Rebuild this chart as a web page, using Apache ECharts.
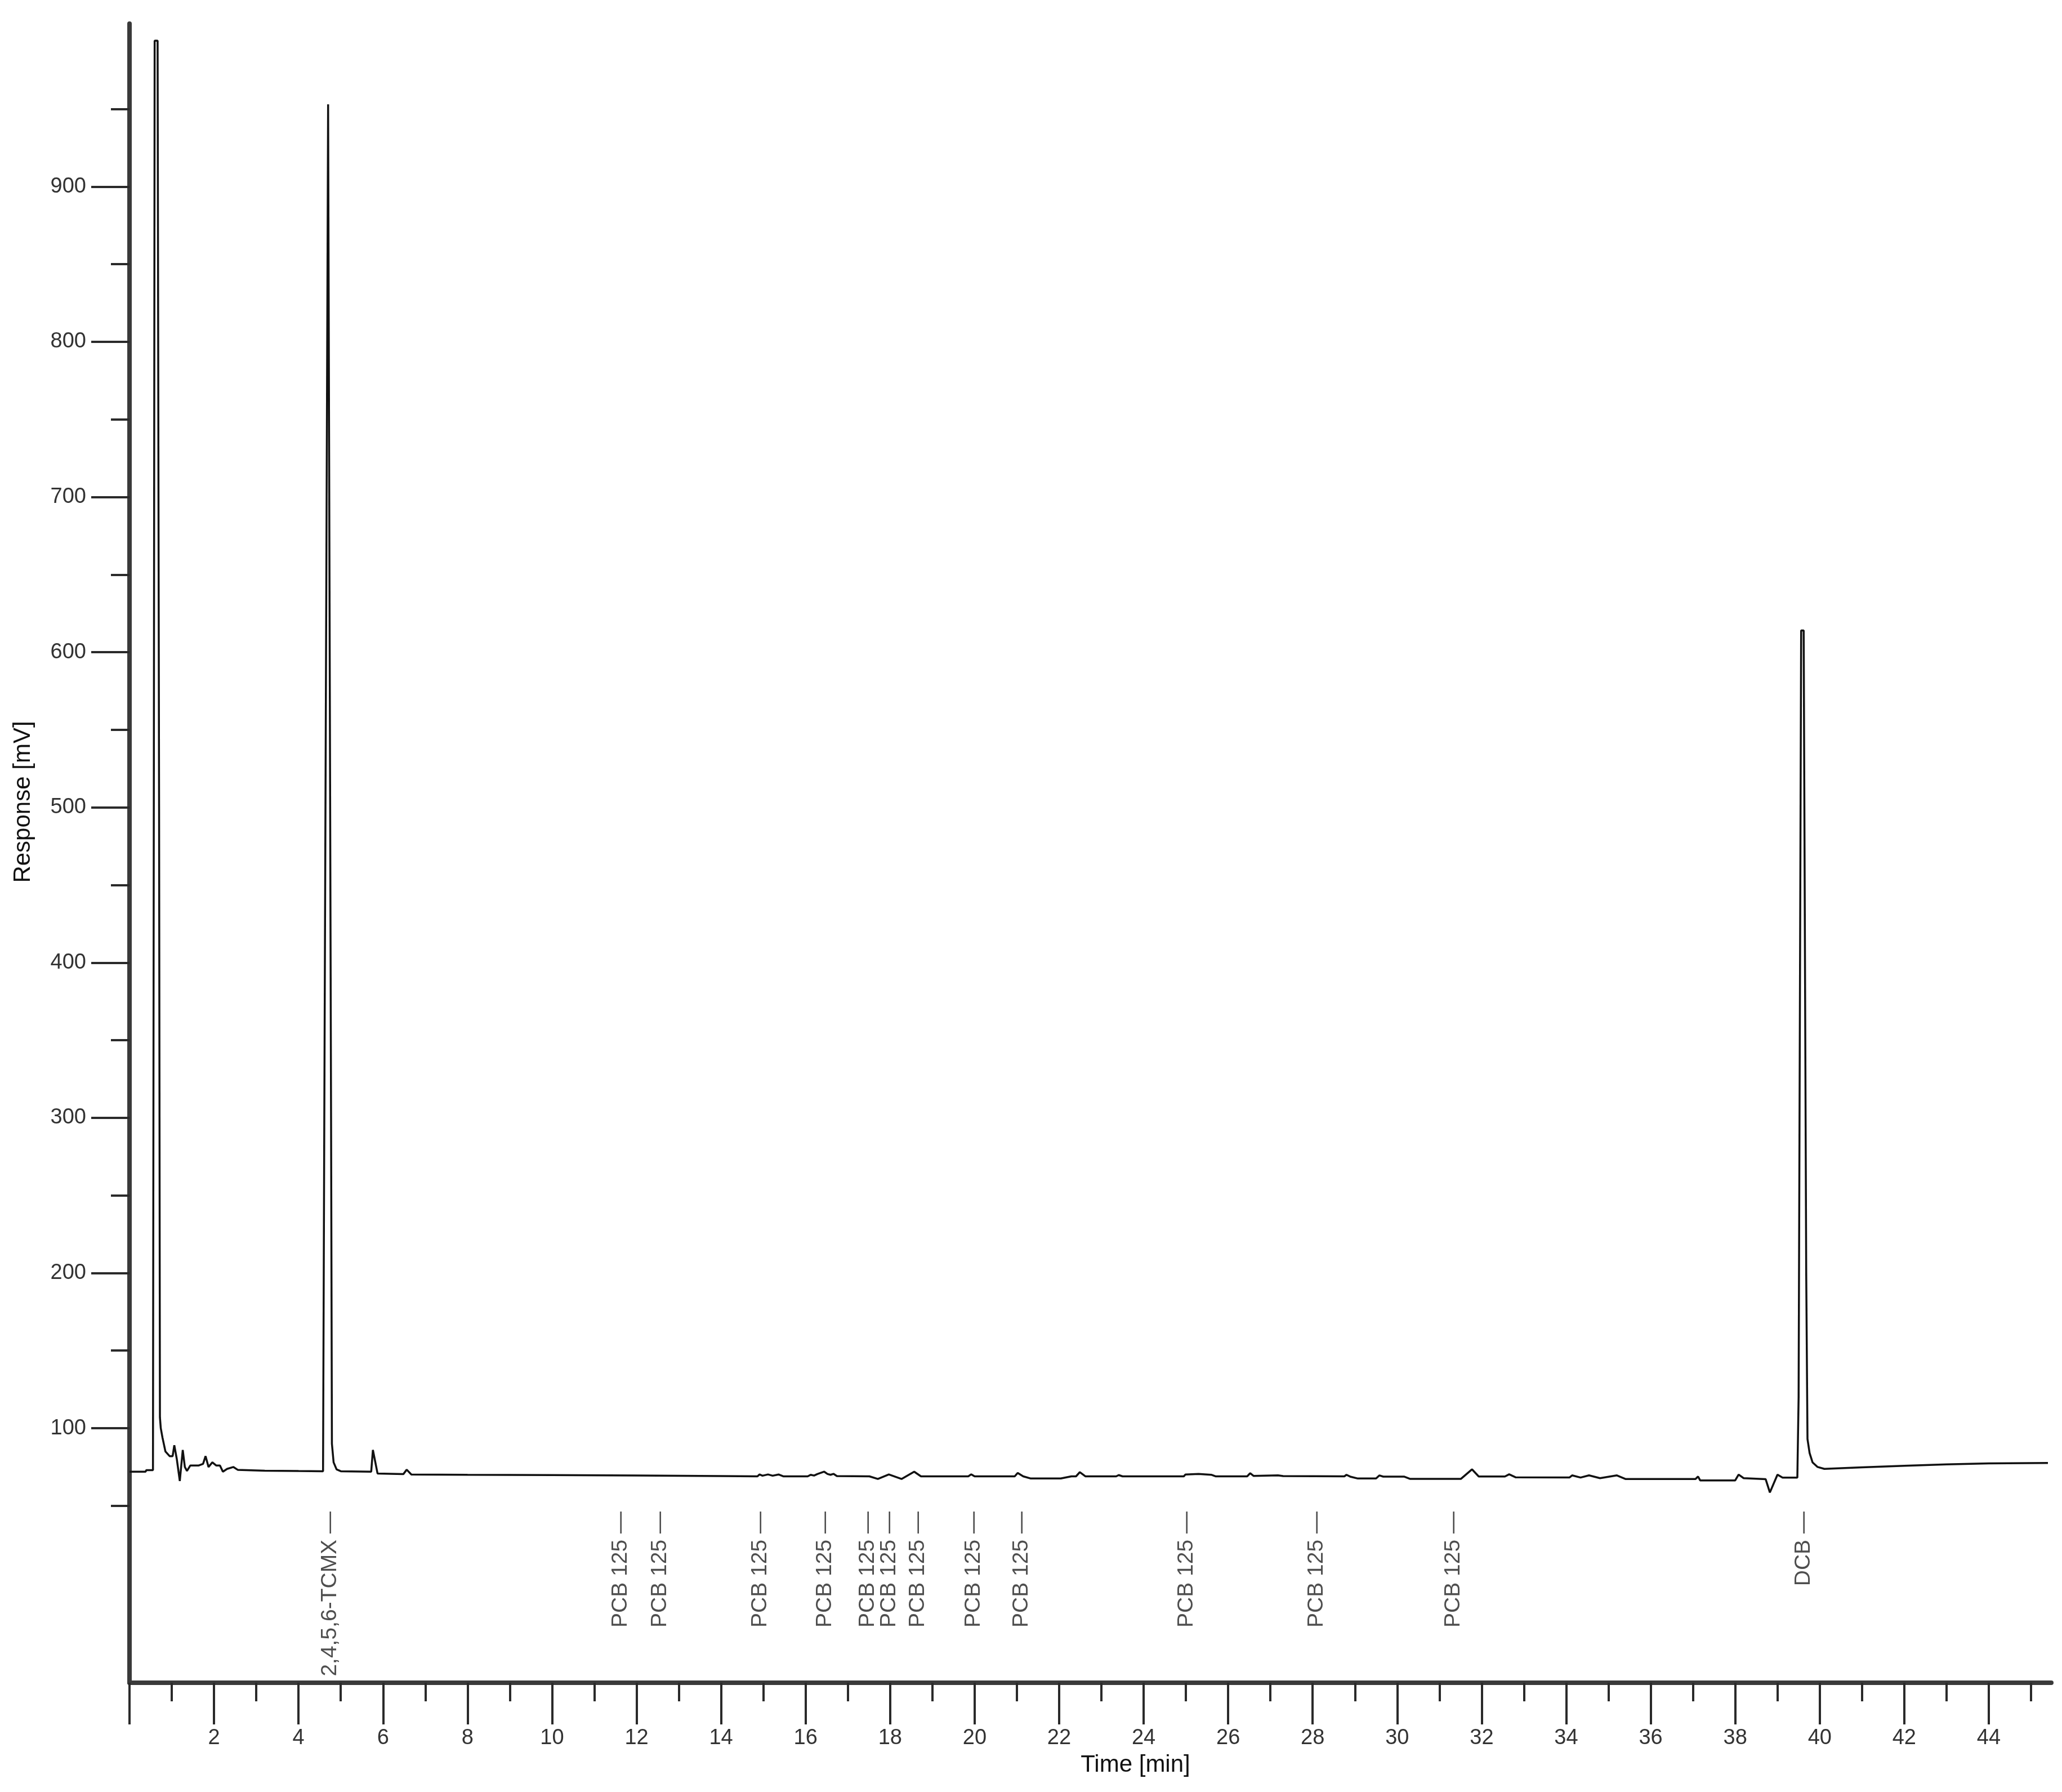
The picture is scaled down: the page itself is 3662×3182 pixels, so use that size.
<!DOCTYPE html>
<html><head><meta charset="utf-8">
<script src="https://cdn.jsdelivr.net/npm/echarts@6/dist/echarts.min.js"></script>
<style>html,body{margin:0;padding:0;background:#fff}#c{width:3662px;height:3182px}</style>
</head><body><div id="c"></div>
<script>
// Chromatogram trace: retention time (min) and detector response (mV)
const traceTime = [
  0.00, 0.38, 0.40, 0.555, 0.575, 0.595, 0.665, 0.70, 0.72, 0.74, 0.78, 0.85, 0.95, 1.02, 1.06, 1.12,
  1.19, 1.26, 1.31, 1.36, 1.44, 1.64, 1.74, 1.80, 1.87, 1.96, 2.05, 2.14, 2.21, 2.31, 2.46, 2.56,
  3.2, 4.0, 4.58, 4.61, 4.70, 4.77, 4.79, 4.83, 4.90, 5.00, 5.72, 5.76, 5.87, 6.48, 6.56, 6.67,
  8.0, 10.0, 12.0, 14.0, 14.86, 14.91, 14.98, 15.11, 15.22, 15.36, 15.47, 16.05, 16.12, 16.20,
  16.28, 16.44, 16.52, 16.59, 16.66, 16.74, 17.51, 17.71, 17.97, 18.27, 18.57, 18.73, 19.85, 19.92,
  20.0, 20.95, 21.02, 21.15, 21.33, 22.04, 22.29, 22.40, 22.49, 22.62, 23.35, 23.41, 23.50, 24.95,
  24.99, 25.30, 25.60, 25.70, 26.45, 26.52, 26.60, 27.18, 27.30, 28.75, 28.80, 28.90, 29.07, 29.50,
  29.58, 29.67, 30.17, 30.30, 31.51, 31.77, 31.93, 32.55, 32.65, 32.80, 34.08, 34.14, 34.34, 34.54,
  34.80, 35.20, 35.40, 37.06, 37.12, 37.17, 38.00, 38.08, 38.20, 38.72, 38.82, 39.00, 39.12, 39.47,
  39.50, 39.56, 39.62, 39.68, 39.71, 39.76, 39.83, 39.95, 40.11, 41.0, 42.0, 43.0, 44.0, 45.4
];
const traceResponse = [
  72.0, 72.0, 73.0, 73.0, 500, 994, 994, 500, 107, 100, 94, 85, 82, 82, 89, 80,
  66, 86, 75, 72.5, 76, 76, 77, 82, 75, 78, 76, 76, 72, 73.8, 75, 73.2,
  72.6, 72.4, 72.3, 300, 953, 300, 90, 78, 73.5, 72.3, 72.0, 86, 70.8, 70.4, 73.3, 70.2,
  70.0, 69.8, 69.5, 69.2, 69.0, 70.2, 69.4, 70.2, 69.4, 70.2, 69.0, 69.0, 70.0, 69.5,
  70.5, 72.0, 70.5, 70.0, 70.6, 69.2, 69.0, 67.3, 70.2, 67.3, 72.0, 69.0, 69.0, 70.3,
  69.0, 69.0, 71.2, 69.0, 67.6, 67.6, 69.0, 69.0, 71.7, 69.0, 69.0, 69.8, 69.0, 69.0,
  70.2, 70.5, 70.0, 69.0, 69.0, 71.0, 69.3, 69.6, 69.2, 69.0, 70.0, 68.7, 67.6, 67.6,
  69.6, 68.8, 68.8, 67.4, 67.4, 73.5, 68.9, 68.9, 70.3, 68.4, 68.3, 69.6, 68.2, 69.6,
  67.8, 69.6, 67.3, 67.3, 68.9, 66.4, 66.4, 70.1, 67.8, 67.2, 58.6, 70.1, 68.2, 68.2,
  120, 614, 614, 200, 93, 84, 78, 75, 73.8, 74.8, 75.8, 76.7, 77.3, 77.6
];
// Peak identification labels
const peakTimes = [4.75, 11.62, 12.55, 14.93, 16.46, 17.47, 17.98, 18.66, 19.98, 21.11, 25.02, 28.10, 31.33, 39.62];
const peakNames = ['2,4,5,6-TCMX', 'PCB 125', 'PCB 125', 'PCB 125', 'PCB 125', 'PCB 125', 'PCB 125',
  'PCB 125', 'PCB 125', 'PCB 125', 'PCB 125', 'PCB 125', 'PCB 125', 'DCB'];
// Axis ticks
const yMajorTicks = [100, 200, 300, 400, 500, 600, 700, 800, 900];
const yMinorTicks = [50, 150, 250, 350, 450, 550, 650, 750, 850, 950];
const xMajorTicks = [0, 2, 4, 6, 8, 10, 12, 14, 16, 18, 20, 22, 24, 26, 28, 30, 32, 34, 36, 38, 40, 42, 44];
const xLabelTicks = [2, 4, 6, 8, 10, 12, 14, 16, 18, 20, 22, 24, 26, 28, 30, 32, 34, 36, 38, 40, 42, 44];
const xMinorTicks = [1, 3, 5, 7, 9, 11, 13, 15, 17, 19, 21, 23, 25, 27, 29, 31, 33, 35, 37, 39, 41, 43, 45];

const FONT = "'Liberation Sans', Arial, Helvetica, sans-serif";
const Y_MIN = -64, Y_MAX = 1005, X_MIN = 0, X_MAX = 45.48;
const LABEL_TOP = 46.3;

const traceData = traceTime.map((t, i) => [t, traceResponse[i]]);
const labelData = peakTimes.map((t, i) => ({ value: [t, LABEL_TOP], name: peakNames[i] }));

const chart = echarts.init(document.getElementById('c'), null, { renderer: 'canvas' });
chart.setOption({
  animation: false,
  backgroundColor: '#ffffff',
  grid: { left: 230, right: 19, top: 42, bottom: 194, containLabel: false, outerBoundsMode: 'none' },
  xAxis: [
    {
      type: 'value', min: X_MIN, max: X_MAX, position: 'bottom',
      name: 'Time [min]', nameLocation: 'middle', nameGap: 125,
      nameTextStyle: { fontSize: 42, color: '#111', fontFamily: FONT, padding: [0, 0, 0, 160] },
      axisLine: { show: true, onZero: false, lineStyle: { color: '#3a3a3a', width: 8 } },
      axisTick: { show: true, customValues: xMajorTicks, length: 74, lineStyle: { color: '#2a2a2a', width: 4 } },
      axisLabel: { show: true, customValues: xLabelTicks, margin: 80, fontSize: 38, color: '#333', fontFamily: FONT },
      splitLine: { show: false }
    },
    {
      type: 'value', min: X_MIN, max: X_MAX, position: 'bottom', offset: 0,
      axisLine: { show: false, onZero: false },
      axisTick: { show: true, customValues: xMinorTicks, length: 33, lineStyle: { color: '#2a2a2a', width: 4 } },
      axisLabel: { show: false },
      splitLine: { show: false }
    }
  ],
  yAxis: [
    {
      type: 'value', min: Y_MIN, max: Y_MAX, position: 'left',
      name: 'Response [mV]', nameLocation: 'middle', nameGap: 168,
      nameTextStyle: { fontSize: 42, color: '#111', fontFamily: FONT, padding: [0, 0, 0, 182] },
      axisLine: { show: true, onZero: false, lineStyle: { color: '#3a3a3a', width: 8 } },
      axisTick: { show: true, customValues: yMajorTicks, length: 68, lineStyle: { color: '#2a2a2a', width: 4 } },
      axisLabel: { show: true, customValues: yMajorTicks, margin: 77, fontSize: 38, color: '#333', fontFamily: FONT },
      splitLine: { show: false }
    },
    {
      type: 'value', min: Y_MIN, max: Y_MAX, position: 'left', offset: 0,
      axisLine: { show: false, onZero: false },
      axisTick: { show: true, customValues: yMinorTicks, length: 33, lineStyle: { color: '#2a2a2a', width: 4 } },
      axisLabel: { show: false },
      splitLine: { show: false }
    }
  ],
  series: [
    {
      type: 'line', xAxisIndex: 0, yAxisIndex: 0, data: traceData,
      showSymbol: false, symbol: 'none', smooth: false, sampling: null,
      lineStyle: { color: '#111', width: 3.5 }, z: 3
    },
    {
      type: 'scatter', xAxisIndex: 0, yAxisIndex: 0, data: labelData,
      symbol: 'circle', symbolSize: 1, itemStyle: { color: 'rgba(0,0,0,0)' },
      silent: true,
      label: {
        show: true, position: 'inside', rotate: 90, align: 'right', verticalAlign: 'middle',
        formatter: p => p.name + ' \u2014', fontSize: 39, color: '#222', fontFamily: FONT
      },
      z: 4
    }
  ]
});
</script></body></html>
